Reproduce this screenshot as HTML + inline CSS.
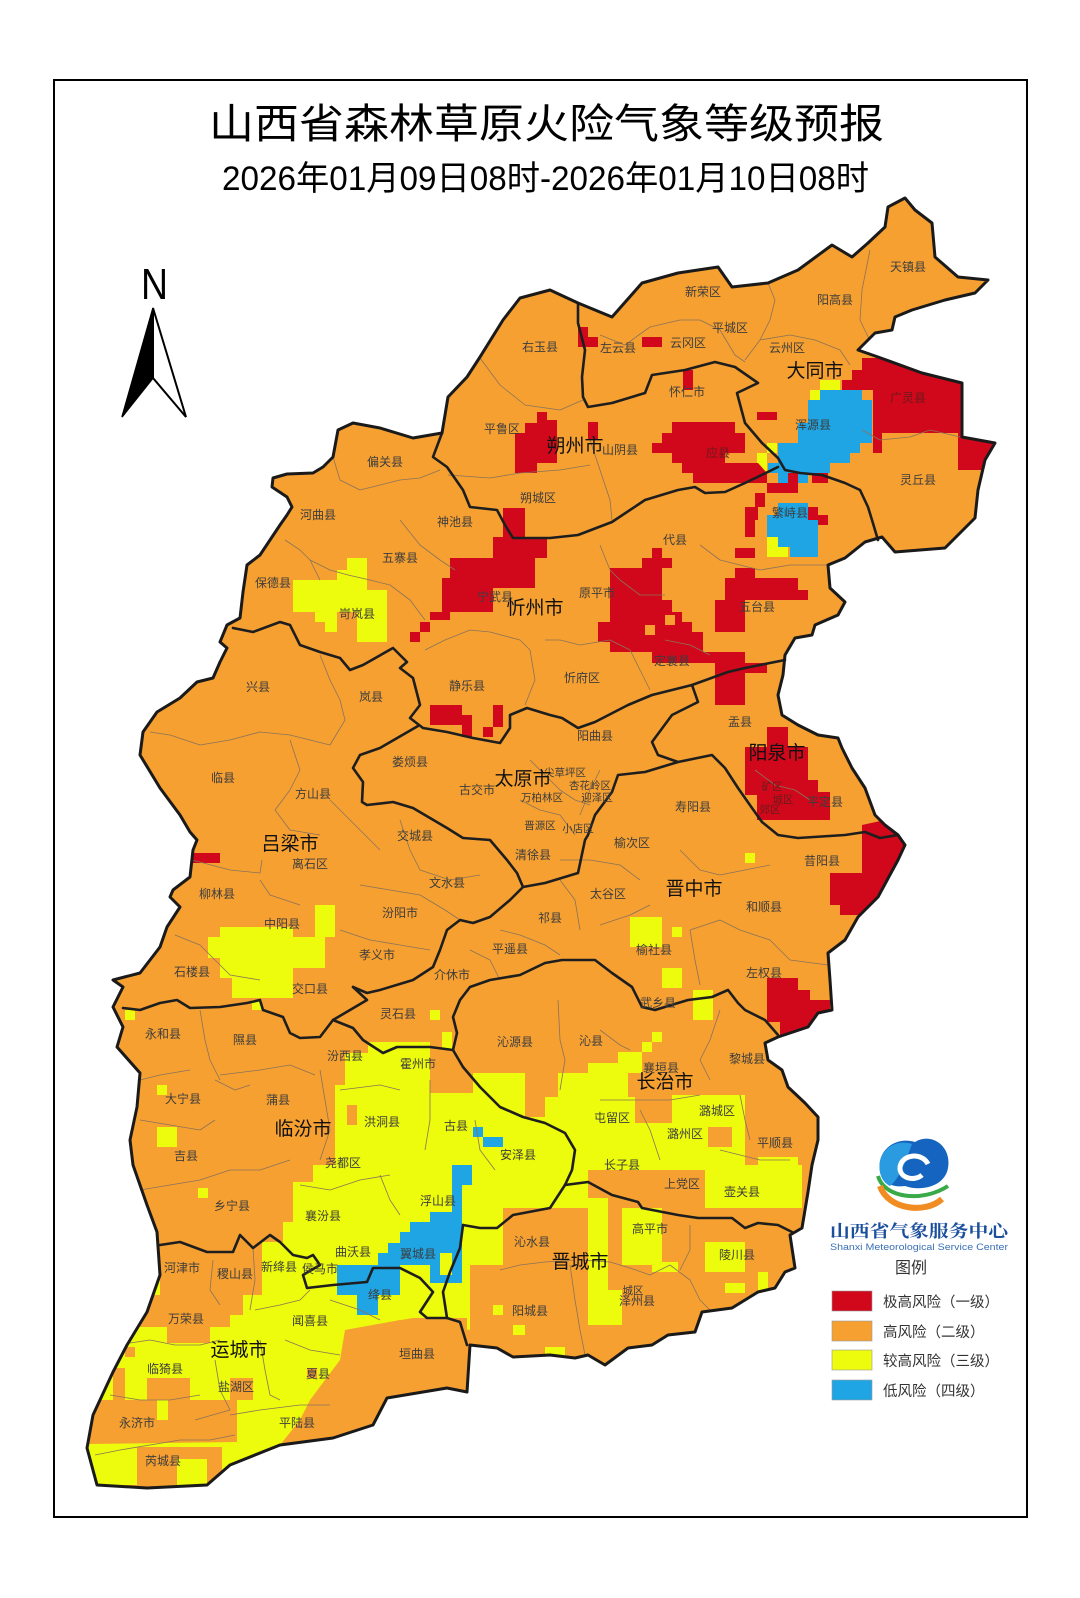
<!DOCTYPE html>
<html><head><meta charset="utf-8"><style>
html,body{margin:0;padding:0;background:#fff;}
svg{display:block;}
.c{font-family:"Liberation Sans","Noto Sans CJK SC",sans-serif;font-size:12px;fill:#3c3c3c;text-anchor:middle;}
.s{font-family:"Liberation Sans","Noto Sans CJK SC",sans-serif;font-size:10.5px;fill:#3c3c3c;text-anchor:middle;}
.m{font-family:"Liberation Sans","Noto Sans CJK SC",sans-serif;font-size:19px;fill:#111;text-anchor:middle;}
.t{fill:none;stroke:#8a7358;stroke-width:0.8;stroke-linejoin:round;}
.k{fill:none;stroke:#1e1e1e;stroke-width:2.6;stroke-linejoin:round;stroke-linecap:round;}
</style></head><body>
<svg width="1080" height="1598" viewBox="0 0 1080 1598" xmlns="http://www.w3.org/2000/svg">
<rect width="1080" height="1598" fill="#fff"/>
<rect x="54" y="80" width="973" height="1437" fill="#fff" stroke="#000" stroke-width="2"/>
<text x="209" y="138" textLength="675" lengthAdjust="spacingAndGlyphs" style="font-family:'Liberation Sans','Noto Sans CJK SC',sans-serif;font-size:41px;fill:#000;">山西省森林草原火险气象等级预报</text>
<text x="222" y="190" textLength="647" lengthAdjust="spacingAndGlyphs" style="font-family:'Liberation Sans','Noto Sans CJK SC',sans-serif;font-size:34px;fill:#000;">2026年01月09日08时-2026年01月10日08时</text>
<!-- north arrow -->
<text x="141" y="299" textLength="27" lengthAdjust="spacingAndGlyphs" style="font-family:'Liberation Sans',sans-serif;font-size:44px;fill:#000;">N</text>
<path d="M153,308 L186,417 L153,378 Z" fill="#fff" stroke="#000" stroke-width="2" stroke-linejoin="miter"/>
<path d="M153,308 L122,417 L153,378 Z" fill="#000" stroke="#000" stroke-width="1.5"/>
<defs>
<clipPath id="pv"><polygon id="pp" points="503,320 520,298 550,290 578,303 612,317 642,283 678,273 718,267 732,287 768,283 798,270 832,245 852,257 868,243 885,227 888,207 905,198 915,210 932,223 935,257 958,277 988,280 975,293 945,300 912,310 895,317 892,330 875,333 858,350 878,357 922,373 962,383 962,437 995,443 985,460 978,490 975,518 945,548 895,552 882,537 865,542 845,558 828,565 830,588 845,602 838,615 815,625 812,635 795,638 785,655 783,675 778,695 782,715 798,725 818,735 838,738 842,748 852,768 865,788 875,815 885,825 898,835 905,845 898,860 878,897 858,917 845,940 828,953 830,980 832,1010 818,1013 808,1027 778,1037 765,1043 768,1060 782,1070 788,1087 805,1103 818,1117 818,1140 812,1165 808,1192 802,1228 790,1235 795,1268 785,1272 775,1288 758,1292 732,1308 702,1312 695,1332 668,1335 652,1345 628,1348 605,1365 588,1355 575,1358 550,1355 513,1357 497,1348 470,1345 467,1392 447,1388 387,1398 373,1425 333,1438 280,1445 230,1465 207,1485 147,1488 97,1485 87,1448 93,1415 113,1372 127,1345 147,1312 160,1275 157,1232 147,1205 133,1165 130,1140 137,1107 140,1073 117,1047 123,1027 113,1007 123,987 113,980 140,973 160,947 167,927 180,907 170,897 173,890 190,877 193,850 197,840 190,832 180,815 160,788 140,755 143,732 157,712 180,698 197,682 213,678 220,662 227,648 220,642 227,625 240,618 243,592 247,565 260,555 280,525 287,515 292,507 287,497 272,487 273,478 287,474 313,473 323,467 333,457 338,430 353,423 380,428 413,438 442,433 448,397 467,377 480,357"/></clipPath>
</defs>
<use href="#pp" fill="#F6A032"/>
<g clip-path="url(#pv)">
<!-- yellow -->
<g fill="#EDFB0C">
<polygon points="347,558 367,558 367,590 387,590 387,642 357,642 357,612 337,612 337,632 325,632 325,622 315,622 315,612 293,612 293,580 337,580 337,570 347,570"/>
<polygon points="315,905 335,905 335,937 325,937 325,968 293,968 293,998 232,998 232,978 220,978 220,958 208,958 208,937 220,937 220,927 293,927 293,937 315,937"/>
<polygon points="345,1053 368,1053 368,1042 430,1042 430,1093 473,1093 473,1073 525,1073 525,1117 550,1117 550,1208 470,1208 470,1330 400,1320 345,1330 340,1360 310,1400 300,1420 280,1445 230,1465 207,1485 97,1485 87,1448 93,1415 113,1372 127,1345 147,1312 160,1275 160,1245 262,1245 262,1242 283,1242 283,1222 293,1222 293,1182 313,1182 313,1165 335,1165 335,1085 345,1085"/>
<rect x="125" y="1010" width="10" height="10"/><rect x="252" y="1000" width="10" height="10"/><rect x="430" y="1010" width="10" height="10"/><rect x="442" y="1032" width="10" height="18"/><rect x="157" y="1085" width="10" height="10"/><rect x="157" y="1127" width="20" height="20"/><rect x="198" y="1188" width="10" height="10"/>
<rect x="630" y="917" width="32" height="30"/><rect x="672" y="927" width="10" height="10"/><rect x="662" y="968" width="20" height="20"/><rect x="693" y="990" width="20" height="30"/><rect x="745" y="853" width="10" height="10"/><rect x="652" y="1032" width="10" height="10"/><rect x="642" y="1042" width="10" height="10"/>
<rect x="618" y="1052" width="24" height="11"/><rect x="588" y="1063" width="54" height="10"/><rect x="558" y="1073" width="70" height="24"/><rect x="545" y="1097" width="127" height="73"/><rect x="672" y="1095" width="73" height="75"/><rect x="758" y="1157" width="40" height="13"/>
<rect x="705" y="1165" width="97" height="43"/><rect x="545" y="1165" width="43" height="43"/><rect x="588" y="1198" width="20" height="127"/><rect x="608" y="1290" width="14" height="35"/><rect x="622" y="1208" width="40" height="57"/><rect x="652" y="1262" width="26" height="10"/><rect x="705" y="1242" width="40" height="30"/><rect x="725" y="1283" width="20" height="10"/><rect x="758" y="1272" width="10" height="21"/><rect x="545" y="1347" width="20" height="10"/>
<rect x="460" y="1208" width="43" height="57"/><rect x="493" y="1305" width="10" height="10"/><rect x="513" y="1325" width="12" height="10"/>
<rect x="820" y="380" width="20" height="10"/><rect x="810" y="390" width="10" height="10"/><rect x="767" y="443" width="10" height="10"/><rect x="757" y="453" width="10" height="20"/>
<rect x="767" y="537" width="11" height="20"/><rect x="778" y="547" width="10" height="10"/>
</g>
<!-- orange holes -->
<g fill="#F6A032">
<polygon points="160,1245 262,1245 262,1295 243,1295 243,1315 230,1315 230,1327 210,1327 210,1343 167,1343 167,1327 140,1327 140,1295 160,1295"/>
<rect x="125" y="1347" width="10" height="10"/>
<polygon points="90,1400 147,1400 147,1378 190,1378 190,1400 230,1400 230,1378 253,1378 253,1400 237,1400 237,1442 87,1444"/>
<rect x="137" y="1447" width="40" height="43"/><rect x="177" y="1447" width="45" height="12"/><rect x="207" y="1459" width="15" height="31"/>
<polygon points="347,1348 363,1338 390,1322 413,1318 467,1318 467,1395 387,1398 373,1418 367,1432 337,1442 337,1378 347,1378"/>
<rect x="113" y="1368" width="12" height="32"/><rect x="307" y="1368" width="10" height="10"/><rect x="347" y="1105" width="10" height="20"/><rect x="635" y="1097" width="37" height="26"/><rect x="708" y="1127" width="24" height="20"/>
</g>
<rect x="157" y="1400" width="11" height="20" fill="#EDFB0C"/>
<!-- blue -->
<g fill="#1FA5E3">
<polygon points="820,390 862,390 862,400 872,400 872,443 860,443 860,453 850,453 850,463 830,463 830,473 808,473 808,483 778,483 778,473 768,473 768,463 778,463 778,443 798,443 798,423 808,423 808,400 820,400"/>
<polygon points="778,503 808,503 808,515 818,515 818,557 790,557 790,547 778,547 778,537 767,537 767,515 778,515"/>
<polygon points="452,1165 472,1165 472,1185 462,1185 462,1283 430,1283 430,1265 400,1265 400,1295 378,1295 378,1315 357,1315 357,1295 337,1295 337,1265 378,1265 378,1253 388,1253 388,1243 400,1243 400,1232 410,1232 410,1222 430,1222 430,1212 452,1212"/>
<rect x="473" y="1127" width="10" height="10"/><rect x="483" y="1137" width="20" height="10"/>
</g>
<rect x="440" y="1253" width="12" height="22" fill="#EDFB0C"/>
<!-- red -->
<g fill="#D1081C">
<polygon points="578,327 588,327 588,337 598,337 598,347 578,347"/>
<rect x="642" y="337" width="20" height="10"/><rect x="683" y="370" width="10" height="20"/><rect x="757" y="412" width="20" height="8"/><rect x="588" y="422" width="10" height="18"/>
<polygon points="537,412 547,412 547,420 557,420 557,463 537,463 537,473 515,473 515,433 525,433 525,423 537,423"/>
<polygon points="672,422 735,422 735,433 745,433 745,453 725,453 725,463 758,463 767,473 767,483 693,483 693,473 682,473 682,463 672,463 672,453 652,453 652,443 662,443 662,433 672,433"/>
<polygon points="862,358 878,358 930,340 1010,340 1010,470 958,470 958,433 882,433 882,453 873,453 873,390 842,390 842,380 852,380 852,370 862,370"/>
<rect x="767" y="483" width="31" height="10"/><rect x="812" y="473" width="16" height="10"/><rect x="745" y="507" width="13" height="13"/><rect x="755" y="493" width="10" height="14"/><rect x="808" y="507" width="10" height="13"/><rect x="745" y="515" width="10" height="22"/><rect x="735" y="548" width="20" height="10"/><rect x="818" y="515" width="10" height="10"/><rect x="788" y="473" width="10" height="10"/>
<polygon points="503,508 525,508 525,537 547,537 547,558 535,558 535,588 493,588 493,612 450,612 450,620 430,620 430,632 420,632 420,642 410,642 410,632 420,632 420,622 430,622 430,612 442,612 442,578 450,578 450,558 493,558 493,537 503,537"/>
<polygon points="652,548 662,548 662,558 672,558 672,568 662,568 662,600 672,600 672,612 682,612 682,622 692,622 692,632 703,632 703,652 745,652 745,663 767,663 767,673 745,673 745,705 715,705 715,663 652,663 652,652 610,652 610,642 598,642 598,622 610,622 610,568 642,568 642,558 652,558"/>
<polygon points="735,568 755,568 755,578 798,578 798,590 808,590 808,600 745,600 745,632 715,632 715,600 725,600 725,578 735,578"/>
<polygon points="767,727 788,727 788,747 808,747 808,780 818,780 818,792 830,792 830,820 757,820 757,795 745,795 745,747 767,747"/>
<polygon points="862,825 930,810 930,880 880,900 865,915 840,915 840,905 830,905 830,873 862,873"/>
<polygon points="767,978 798,978 798,990 810,990 810,1000 830,1000 830,1045 780,1045 780,1022 767,1022"/>
<rect x="185" y="853" width="35" height="10"/>
<rect x="430" y="705" width="32" height="20"/><rect x="462" y="715" width="10" height="22"/><rect x="483" y="727" width="10" height="10"/><rect x="493" y="705" width="10" height="22"/>
</g>
<rect x="665" y="615" width="10" height="10" fill="#F6A032"/>
<rect x="645" y="625" width="10" height="10" fill="#F6A032"/>
<!-- county lines -->
<g class="t">
<polyline points="480,358 500,385 525,405 560,410 583,400"/>
<polyline points="448,475 490,478 520,473 560,470 590,465"/>
<polyline points="590,440 600,470 610,500 612,520"/>
<polyline points="600,335 625,345 650,327 680,320 700,320"/>
<polyline points="768,283 775,300 770,320 760,340 745,360"/>
<polyline points="700,320 720,330 735,355 745,362"/>
<polyline points="760,340 790,335 815,340 840,350 850,365"/>
<polyline points="870,250 862,290 860,320 872,345"/>
<polyline points="862,430 880,440 910,437 930,430 960,437"/>
<polyline points="333,457 340,480 360,490 380,485 400,480 420,478 440,470"/>
<polyline points="285,540 300,550 310,560 320,580"/>
<polyline points="400,520 420,545 440,560 455,570"/>
<polyline points="310,560 330,570 348,575"/>
<polyline points="348,575 370,580 390,585 410,600 425,620"/>
<polyline points="425,650 445,640 470,630 490,632 520,640 530,650"/>
<polyline points="530,650 535,680 525,705"/>
<polyline points="545,640 560,640 580,645 610,640 630,650"/>
<polyline points="600,545 610,570 620,580 640,595 665,595"/>
<polyline points="700,545 720,560 740,565 760,570 790,565 828,565"/>
<polyline points="665,640 690,645 710,655"/>
<polyline points="630,650 640,670 650,690"/>
<polyline points="320,655 330,680 340,700 345,720 330,745"/>
<polyline points="150,732 170,735 200,745 230,740 260,732 290,735 310,740 330,745"/>
<polyline points="290,740 300,770 290,790 275,810"/>
<polyline points="275,810 290,830 320,835"/>
<polyline points="192,860 230,870 260,873 262,860"/>
<polyline points="260,880 270,895 300,905"/>
<polyline points="400,820 410,850 420,870 450,880 480,875"/>
<polyline points="360,885 390,890 420,895 445,910 460,920"/>
<polyline points="340,930 370,940 400,945 430,950"/>
<polyline points="330,800 350,820 365,835 380,850"/>
<polyline points="175,935 200,945 215,960 230,975 260,980"/>
<polyline points="560,860 590,860 620,865 640,880"/>
<polyline points="500,930 520,935 545,945 560,955"/>
<polyline points="560,880 575,900 580,930"/>
<polyline points="680,850 700,870 720,875 745,870 770,865"/>
<polyline points="600,925 630,915 650,905"/>
<polyline points="690,930 720,920 740,930 770,940 790,960 828,965"/>
<polyline points="690,930 695,960 700,985"/>
<polyline points="470,950 490,960 500,980"/>
<polyline points="558,1000 560,1040 565,1060 560,1090"/>
<polyline points="600,1030 620,1045 630,1050"/>
<polyline points="720,1010 710,1040 700,1060 710,1080"/>
<polyline points="600,1100 640,1100 670,1100 700,1095"/>
<polyline points="640,1110 650,1130 660,1160"/>
<polyline points="740,1095 745,1120 750,1140"/>
<polyline points="720,1150 760,1160 790,1160"/>
<polyline points="200,1010 205,1040 210,1060 220,1080"/>
<polyline points="215,1080 235,1090 250,1085"/>
<polyline points="220,1075 260,1070 290,1065 315,1075"/>
<polyline points="140,1080 160,1075 190,1070"/>
<polyline points="140,1120 170,1125 200,1130 215,1120"/>
<polyline points="320,1070 325,1100 330,1130 320,1160"/>
<polyline points="340,1090 380,1085 400,1090"/>
<polyline points="430,1080 430,1120 425,1150"/>
<polyline points="475,1120 480,1150 495,1170"/>
<polyline points="140,1190 170,1185 200,1180 230,1170 260,1170 290,1160"/>
<polyline points="300,1185 330,1190 360,1180 390,1175"/>
<polyline points="380,1175 390,1200 400,1215"/>
<polyline points="213,1260 210,1290 220,1305"/>
<polyline points="130,1343 150,1340 175,1345 200,1345 220,1340"/>
<polyline points="253,1248 255,1280 250,1310"/>
<polyline points="255,1310 280,1305 300,1300 310,1290"/>
<polyline points="215,1360 220,1390 230,1410 195,1420"/>
<polyline points="110,1395 140,1400 170,1400 200,1395"/>
<polyline points="95,1455 120,1450 150,1445 180,1440 210,1440 235,1435"/>
<polyline points="260,1340 265,1370 270,1395 280,1400"/>
<polyline points="230,1415 260,1410 300,1405 330,1405"/>
<polyline points="285,1340 310,1350 340,1355"/>
<polyline points="330,1300 360,1310 380,1320"/>
<polyline points="500,1270 520,1265 545,1262 575,1260"/>
<polyline points="580,1260 610,1262 630,1268 650,1275 670,1265"/>
<polyline points="670,1265 690,1280 700,1300 720,1320"/>
<polyline points="570,1265 575,1300 580,1330 585,1355"/>
<polyline points="690,1225 690,1250 680,1270"/>
<polyline points="530,760 545,775 560,790 575,800 590,805"/>
<polyline points="520,800 540,810 560,815 575,835"/>
<polyline points="600,770 590,790 580,815"/>
<polyline points="755,770 775,785 795,790 810,800"/>
</g>
</g>
<!-- city boundaries -->
<g class="k">
<polyline points="578,303 578,323 585,350 582,377 583,397 588,407 612,403 645,393 652,375 685,370 715,362 735,367 758,383 737,393 745,423 762,443 778,458 785,470 800,473 822,475 845,483 860,490 868,507 872,520 878,540"/>
<polyline points="442,433 433,457 447,467 463,490 470,507 497,510 505,525 513,538 550,538 578,535 612,522 645,500 678,490 695,487 705,493 725,492 745,483 778,467"/>
<polyline points="233,628 253,632 280,622 290,625 300,645 320,652 340,658 350,670 363,665 393,648 407,662 400,668 413,678 420,705 410,718 423,728 447,732 473,738 500,743 510,728 510,715 527,708 550,715 562,718 578,728 595,722 628,705 652,695 692,685 728,672 745,668 785,660"/>
<polyline points="418,726 380,748 360,755 353,768 363,782 362,802 367,805 393,802 413,808 447,828 463,838 490,840 507,860 517,873 523,887"/>
<polyline points="692,685 698,702 672,715 652,742 658,755 678,762 712,755 725,768 738,788 752,808 762,822 778,835 798,838 845,835 865,832 880,838 898,835"/>
<polyline points="678,762 645,772 618,775 612,792 595,815 588,835 585,840 578,873 545,883 523,887 510,900 490,917 473,923 460,920 447,930 440,950 433,967 413,980 380,990 367,993 353,987"/>
<polyline points="353,987 367,1000 333,1020 320,1037 300,1038 290,1033 283,1017 263,1010 260,1000 247,1003 220,1007 190,1008 177,1000 160,1003 140,1010 123,1008"/>
<polyline points="333,1020 353,1028 363,1040 383,1053 397,1047 430,1047 453,1050"/>
<polyline points="453,1050 463,1067 480,1087 500,1107 523,1117 545,1123 565,1133 575,1150 572,1170 565,1185"/>
<polyline points="453,1050 457,1033 453,1017 460,1000 470,987 490,980 520,975 545,963 562,960 595,960 612,973 632,987 642,1007 655,1010 688,1000 712,997 728,990 738,1003 745,1010 765,1020 778,1035"/>
<polyline points="565,1185 588,1182 612,1195 638,1202 642,1208 678,1215 698,1218 732,1218 745,1228 758,1223 778,1225 792,1232"/>
<polyline points="565,1185 550,1208 513,1215 497,1228 480,1228 463,1225"/>
<polyline points="160,1245 180,1242 207,1252 233,1252 240,1235 253,1248 270,1235 280,1242 293,1255 307,1258 313,1255 320,1265 303,1275 307,1288 333,1285 367,1282 373,1268 400,1268 420,1278 433,1292 420,1312 427,1318 447,1318 443,1292 450,1272 460,1248 463,1225"/>
<polyline points="447,1318 460,1322 467,1345"/>
</g>
<use href="#pp" fill="none" stroke="#1a1a1a" stroke-width="3" stroke-linejoin="round"/>
<!-- county labels -->
<g class="c">
<text x="908" y="271">天镇县</text><text x="703" y="296">新荣区</text><text x="835" y="304">阳高县</text><text x="730" y="332">平城区</text>
<text x="618" y="352">左云县</text><text x="688" y="347">云冈区</text><text x="787" y="352">云州区</text><text x="540" y="351">右玉县</text>
<text x="687" y="396">怀仁市</text><text x="908" y="402" style="fill:#6a1a1a">广灵县</text><text x="813" y="429">浑源县</text><text x="718" y="457" style="fill:#6a1a1a">应县</text>
<text x="620" y="454">山阴县</text><text x="918" y="484">灵丘县</text><text x="790" y="517">繁峙县</text><text x="502" y="433">平鲁区</text>
<text x="385" y="466">偏关县</text><text x="318" y="519">河曲县</text><text x="538" y="502">朔城区</text><text x="455" y="526">神池县</text>
<text x="400" y="562">五寨县</text><text x="273" y="587">保德县</text><text x="357" y="618">岢岚县</text><text x="495" y="601">宁武县</text>
<text x="258" y="691">兴县</text><text x="371" y="701">岚县</text><text x="467" y="690">静乐县</text><text x="410" y="766">娄烦县</text>
<text x="223" y="782">临县</text><text x="313" y="798">方山县</text><text x="477" y="794">古交市</text><text x="540" y="829" class="s">晋源区</text>
<text x="415" y="840">交城县</text><text x="675" y="544">代县</text><text x="597" y="597">原平市</text><text x="757" y="611">五台县</text>
<text x="672" y="665">定襄县</text><text x="582" y="682">忻府区</text><text x="740" y="726">盂县</text><text x="595" y="740">阳曲县</text>
<text x="693" y="811">寿阳县</text><text x="825" y="806">平定县</text><text x="632" y="847">榆次区</text>
<text x="310" y="868">离石区</text><text x="217" y="898">柳林县</text><text x="447" y="887">文水县</text><text x="533" y="859">清徐县</text>
<text x="400" y="917">汾阳市</text><text x="282" y="928">中阳县</text><text x="377" y="959">孝义市</text><text x="510" y="953">平遥县</text>
<text x="192" y="976">石楼县</text><text x="452" y="979">介休市</text><text x="310" y="993">交口县</text><text x="398" y="1018">灵石县</text>
<text x="163" y="1038">永和县</text><text x="245" y="1044">隰县</text><text x="515" y="1046">沁源县</text><text x="345" y="1060">汾西县</text>
<text x="418" y="1068">霍州市</text><text x="183" y="1103">大宁县</text><text x="278" y="1104">蒲县</text><text x="382" y="1126">洪洞县</text>
<text x="456" y="1130">古县</text><text x="518" y="1159">安泽县</text><text x="186" y="1160">吉县</text><text x="343" y="1167">尧都区</text>
<text x="550" y="922">祁县</text><text x="608" y="898">太谷区</text><text x="822" y="865">昔阳县</text><text x="764" y="911">和顺县</text>
<text x="654" y="954">榆社县</text><text x="764" y="977">左权县</text><text x="658" y="1007">武乡县</text><text x="591" y="1045">沁县</text>
<text x="747" y="1063">黎城县</text><text x="661" y="1072">襄垣县</text><text x="717" y="1115">潞城区</text><text x="612" y="1122">屯留区</text>
<text x="685" y="1138">潞州区</text><text x="775" y="1147">平顺县</text><text x="622" y="1169">长子县</text>
<text x="232" y="1210">乡宁县</text><text x="323" y="1220">襄汾县</text><text x="438" y="1205">浮山县</text><text x="353" y="1256">曲沃县</text>
<text x="418" y="1258">翼城县</text><text x="532" y="1246">沁水县</text><text x="182" y="1272">河津市</text><text x="235" y="1278">稷山县</text>
<text x="279" y="1271">新绛县</text><text x="320" y="1273">侯马市</text><text x="380" y="1299">绛县</text><text x="530" y="1315">阳城县</text>
<text x="186" y="1323">万荣县</text><text x="310" y="1325">闻喜县</text><text x="417" y="1358">垣曲县</text><text x="165" y="1373">临猗县</text>
<text x="318" y="1378">夏县</text><text x="236" y="1391">盐湖区</text><text x="137" y="1427">永济市</text><text x="297" y="1427">平陆县</text>
<text x="163" y="1465">芮城县</text><text x="682" y="1188">上党区</text><text x="742" y="1196">壶关县</text><text x="650" y="1233">高平市</text>
<text x="737" y="1259">陵川县</text><text x="633" y="1294" class="s">城区</text><text x="637" y="1305">泽州县</text>
</g>
<g class="s">
<text x="565" y="776">尖草坪区</text><text x="590" y="789">杏花岭区</text><text x="597" y="801">迎泽区</text><text x="542" y="801">万柏林区</text><text x="578" y="832">小店区</text>
<text x="772" y="790" style="fill:#6a1a1a">矿区</text><text x="783" y="803" style="fill:#6a1a1a">城区</text><text x="770" y="813" style="fill:#6a1a1a">郊区</text>
</g>
<g class="m">
<text x="815" y="377">大同市</text><text x="575" y="452">朔州市</text><text x="535" y="614">忻州市</text><text x="523" y="785">太原市</text>
<text x="777" y="759">阳泉市</text><text x="290" y="850">吕梁市</text><text x="694" y="895">晋中市</text><text x="303" y="1135">临汾市</text>
<text x="665" y="1088">长治市</text><text x="580" y="1268">晋城市</text><text x="239" y="1356">运城市</text>
</g>
<!-- logo -->
<path d="M880,1172 C876,1150 896,1136 915,1142 C930,1132 952,1145 948,1168 C945,1186 922,1192 905,1186 C892,1188 882,1182 880,1172 Z" fill="#1565c0"/>
<path d="M880,1172 C876,1152 894,1138 912,1144 C906,1160 900,1178 890,1186 C884,1183 881,1178 880,1172 Z" fill="#2a9be0"/>
<path d="M928,1164 C922,1152 902,1154 900,1167 C899,1178 914,1182 922,1175" fill="none" stroke="#fff" stroke-width="5"/>
<path d="M878,1176 C884,1198 922,1203 948,1186" fill="none" stroke="#3aaa48" stroke-width="4"/>
<path d="M880,1186 C888,1210 926,1214 942,1199" fill="none" stroke="#f08c22" stroke-width="6"/>
<text x="830" y="1237" textLength="178" lengthAdjust="spacingAndGlyphs" style="font-family:'Noto Serif CJK SC','Noto Sans CJK SC',serif;font-size:17px;fill:#1b4f9c;font-weight:bold;">山西省气象服务中心</text>
<text x="830" y="1250" textLength="178" lengthAdjust="spacingAndGlyphs" style="font-family:'Liberation Sans',sans-serif;font-size:9px;fill:#3a70b4;">Shanxi Meteorological Service Center</text>
<!-- legend -->
<text x="911" y="1273" style="font-family:'Liberation Sans','Noto Sans CJK SC',sans-serif;font-size:16px;fill:#333;text-anchor:middle;">图例</text>
<rect x="832" y="1291" width="40" height="20" fill="#D1081C" stroke="#999" stroke-width="0.6"/>
<rect x="832" y="1321" width="40" height="20" fill="#F6A032" stroke="#999" stroke-width="0.6"/>
<rect x="832" y="1350" width="40" height="20" fill="#EDFB0C" stroke="#999" stroke-width="0.6"/>
<rect x="832" y="1380" width="40" height="20" fill="#1FA5E3" stroke="#999" stroke-width="0.6"/>
<g style="font-family:'Liberation Sans','Noto Sans CJK SC',sans-serif;font-size:14.5px;fill:#333;">
<text x="883" y="1307">极高风险（一级）</text>
<text x="883" y="1337">高风险（二级）</text>
<text x="883" y="1366">较高风险（三级）</text>
<text x="883" y="1396">低风险（四级）</text>
</g>
</svg>
</body></html>
